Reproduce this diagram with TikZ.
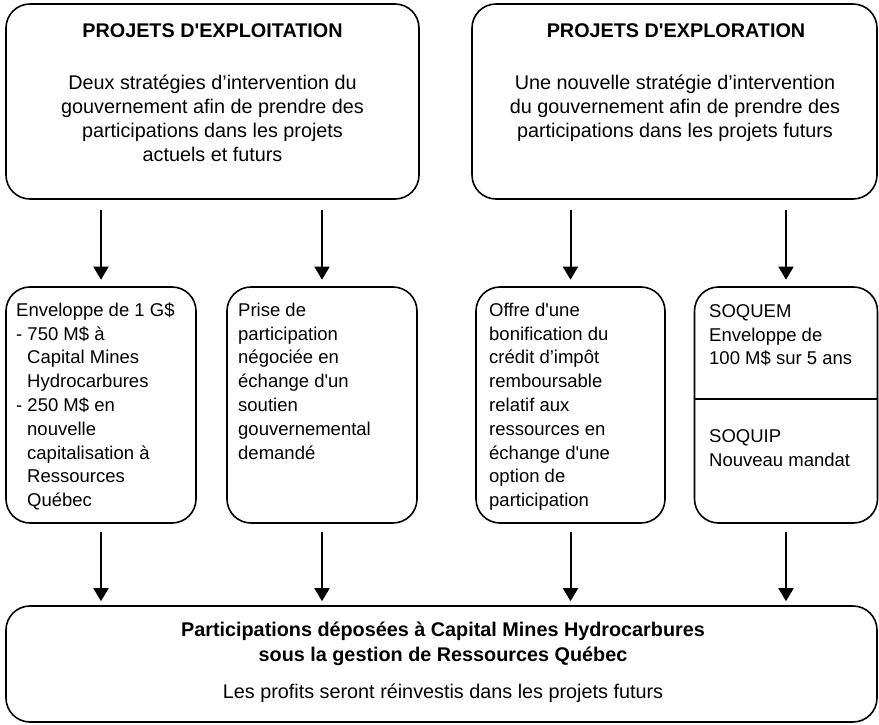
\documentclass[tikz,border=0pt]{standalone}
\usepackage{fontspec}
\setmainfont{Liberation Sans}
\usetikzlibrary{arrows.meta}
\newcommand\fontbig{\fontsize{19.8}{24}\selectfont}
\newcommand\fontbot{\fontsize{19.8}{25}\selectfont}
\newcommand\fontmid{\fontsize{18.5}{23.8}\selectfont}
\newcommand\sq{\textquotesingle}
\newcommand\ind{\hspace*{11pt}}
\begin{document}
\begin{tikzpicture}[x=1pt,y=-1pt,
  box/.style={draw=black,line width=1.6pt,rounded corners=24pt,inner sep=0pt},
  arr/.style={line width=2pt,-{Triangle[width=15pt,length=13pt]}},
  ttl/.style={font=\fontbig\bfseries,anchor=base,inner sep=0pt},
  body/.style={font=\fontbig,align=center,anchor=north,inner sep=0pt},
  mid/.style={font=\fontmid,align=left,anchor=north west,inner sep=0pt}]
\useasboundingbox[fill=white] (0,0) rectangle (879,725);
% boxes
\node[box,minimum width=413pt,minimum height=195pt] (tl) at (212.5,101.5) {};
\node[box,minimum width=405pt,minimum height=195pt] (tr) at (674.5,101.5) {};
\node[box,minimum width=190pt,minimum height=236pt] (m1) at (101,405) {};
\node[box,minimum width=190pt,minimum height=236pt] (m2) at (322,405) {};
\node[box,minimum width=189pt,minimum height=236pt] (m3) at (570.5,405) {};
\node[box,minimum width=183pt,minimum height=236pt] (m4) at (786,405) {};
\node[box,minimum width=871pt,minimum height=116pt] (bot) at (441.5,664) {};
\draw[line width=1.6pt] (m4.west |- 0,399) -- (m4.east |- 0,399);
% texts
\node[ttl] (tlt) at (212.5,37.7) {PROJETS D\sq EXPLOITATION};
\node[body] (tlb) at (212.5,70) {\rule{0pt}{19pt}Deux stratégies d’intervention du\\gouvernement afin de prendre des\\participations dans les projets\\actuels et futurs};
\node[ttl] (trt) at (676,37.7) {PROJETS D\sq EXPLORATION};
\node[body] (trb) at (675,70) {\rule{0pt}{19pt}Une nouvelle stratégie d’intervention\\du gouvernement afin de prendre des\\participations dans les projets futurs};
\node[mid] (m1t) at (16,298) {\rule{0pt}{18pt}Enveloppe de 1 G\$\\- 750 M\$ à\\\ind Capital Mines\\\ind Hydrocarbures\\- 250 M\$ en\\\ind nouvelle\\\ind capitalisation à\\\ind Ressources\\\ind Québec};
\node[mid] (m2t) at (238,298) {\rule{0pt}{18pt}Prise de\\participation\\négociée en\\échange d\sq un\\soutien\\gouvernemental\\demandé};
\node[mid] (m3t) at (489,298) {\rule{0pt}{18pt}Offre d\sq une\\bonification du\\crédit d’impôt\\remboursable\\relatif aux\\ressources en\\échange d\sq une\\option de\\participation};
\node[mid] (m4t) at (709,299) {\rule{0pt}{18pt}SOQUEM\\Enveloppe de\\100 M\$ sur 5 ans};
\node[mid] (m4b) at (709,424) {\rule{0pt}{18pt}SOQUIP\\Nouveau mandat};
\node[font=\fontbot\bfseries,align=center,anchor=north,inner sep=0pt] (bt1) at (443,617) {\rule{0pt}{19pt}Participations déposées à Capital Mines Hydrocarbures\\sous la gestion de Ressources Québec};
\node[font=\fontbig,anchor=base,inner sep=0pt] (bt2) at (443,698) {Les profits seront réinvestis dans les projets futurs};
% arrows
\foreach \m/\t in {m1/tl,m2/tl,m3/tr,m4/tr}{
  \draw[arr,shorten <=10pt,shorten >=6.5pt] (\t.south -| \m.north) -- (\m.north);
  \draw[arr,shorten <=8pt,shorten >=4pt] (\m.south) -- (\m.south |- bot.north);
}
\end{tikzpicture}
\end{document}
